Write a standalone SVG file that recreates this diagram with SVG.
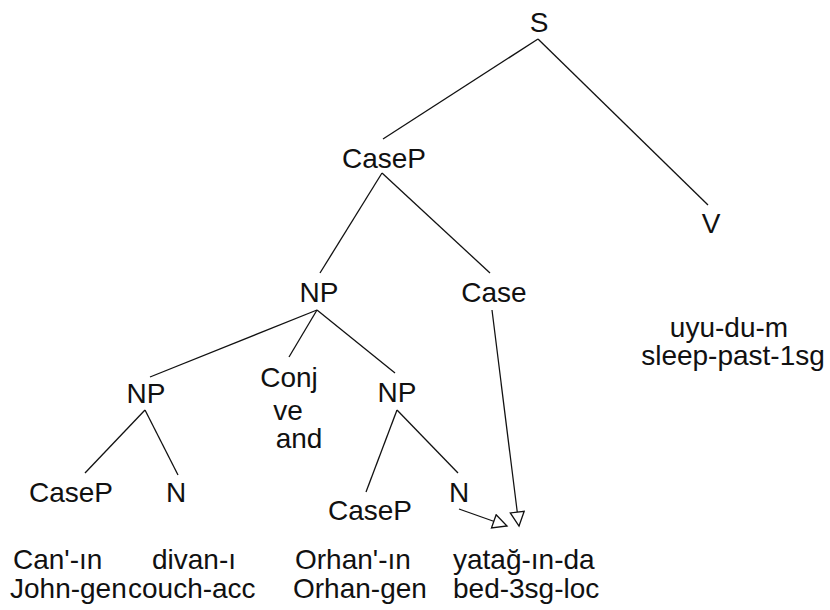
<svg xmlns="http://www.w3.org/2000/svg" width="830" height="610" viewBox="0 0 830 610">
  <style>
    text { font-family: "Liberation Sans", Arial, sans-serif; font-size: 28px; fill: #111; }
    .c { text-anchor: middle; }
    .edge { stroke: #111; stroke-width: 1.3; fill: none; }
  </style>
  <defs>
    <marker id="openTri" markerUnits="userSpaceOnUse" markerWidth="20" markerHeight="20" refX="15" refY="8" orient="auto">
      <path d="M1,1 L15,8 L1,15 Z" fill="#fff" stroke="#111" stroke-width="1.3"/>
    </marker>
  </defs>
  <rect width="830" height="610" fill="#fff"/>

  <g id="connectors">
    <line class="edge" x1="538" y1="39" x2="383" y2="139"/>
    <line class="edge" x1="538" y1="39" x2="708" y2="205"/>
    <line class="edge" x1="382" y1="173" x2="320" y2="273"/>
    <line class="edge" x1="382" y1="173" x2="490" y2="273"/>
    <line class="edge" x1="317" y1="310" x2="150" y2="377"/>
    <line class="edge" x1="317" y1="310" x2="289" y2="357"/>
    <line class="edge" x1="317" y1="310" x2="395" y2="373"/>
    <line class="edge" x1="145" y1="410" x2="85" y2="473"/>
    <line class="edge" x1="145" y1="410" x2="178" y2="475"/>
    <line class="edge" x1="397" y1="410" x2="366" y2="492"/>
    <line class="edge" x1="397" y1="410" x2="458" y2="473"/>
    <line class="edge" x1="492" y1="310" x2="519" y2="526" marker-end="url(#openTri)"/>
    <line class="edge" x1="459" y1="509" x2="507" y2="526" marker-end="url(#openTri)"/>
  </g>

  <g id="node-S"><text class="c" x="539" y="32">S</text></g>
  <g id="node-CaseP-top"><text class="c" x="384" y="168">CaseP</text></g>
  <g id="node-V">
    <text class="c" x="711" y="233">V</text>
  </g>
  <g id="node-V-gloss">
    <text class="c" x="729" y="337">uyu-du-m</text>
    <text class="c" x="733" y="365">sleep-past-1sg</text>
  </g>
  <g id="node-NP"><text class="c" x="319" y="302">NP</text></g>
  <g id="node-Case"><text class="c" x="494" y="302">Case</text></g>
  <g id="node-Conj">
    <text class="c" x="289" y="387">Conj</text>
    <text class="c" x="288" y="420">ve</text>
    <text class="c" x="299" y="448">and</text>
  </g>
  <g id="node-NP-left"><text class="c" x="146" y="403">NP</text></g>
  <g id="node-NP-right"><text class="c" x="397" y="402">NP</text></g>
  <g id="node-CaseP-left"><text class="c" x="71" y="502">CaseP</text></g>
  <g id="node-N-left"><text class="c" x="176" y="502">N</text></g>
  <g id="node-CaseP-right"><text class="c" x="370" y="520">CaseP</text></g>
  <g id="node-N-right"><text class="c" x="459" y="502">N</text></g>

  <g id="gloss-can">
    <text x="13" y="569">Can'-ın</text>
    <text x="10" y="598">John-gen</text>
  </g>
  <g id="gloss-divan">
    <text x="152" y="569">divan-ı</text>
    <text x="128" y="598">couch-acc</text>
  </g>
  <g id="gloss-orhan">
    <text x="295" y="569">Orhan'-ın</text>
    <text x="293" y="598">Orhan-gen</text>
  </g>
  <g id="gloss-yatak">
    <text x="453" y="569">yatağ-ın-da</text>
    <text x="453" y="598">bed-3sg-loc</text>
  </g>
</svg>
